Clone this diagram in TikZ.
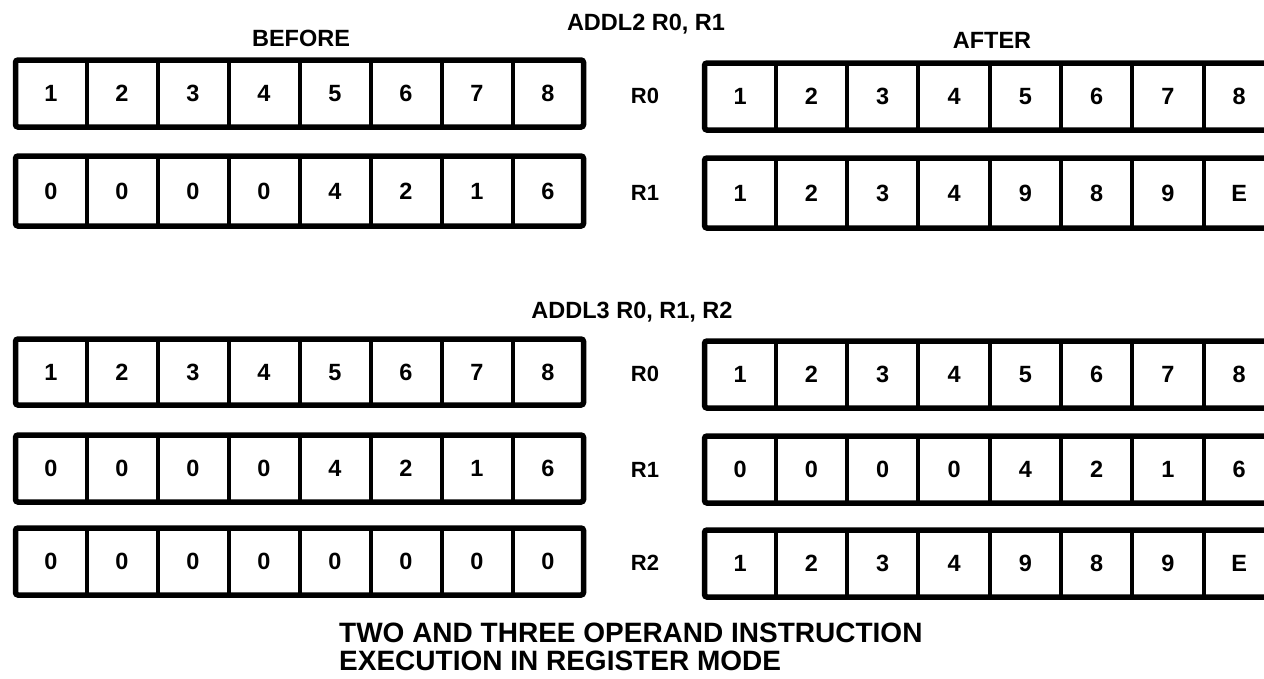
\documentclass[tikz,border=0pt]{standalone}
\usepackage{fontspec}
\setmainfont{Liberation Sans}
\tikzset{
  regbox/.style={line width=5.5pt, rounded corners=2.5pt},
  divline/.style={line width=4pt},
  digit/.style={font=\fontsize{23.5}{24}\selectfont\bfseries, inner sep=0pt, text height=16.8pt, text depth=0pt},
  reglabel/.style={font=\fontsize{22}{22}\selectfont\bfseries, inner sep=0pt, text height=15.8pt, text depth=0pt},
  heading/.style={font=\fontsize{23.5}{24}\selectfont\bfseries, inner sep=0pt, text height=16.8pt, text depth=0pt},
  captext/.style={font=\fontsize{28}{28}\selectfont\bfseries, inner sep=0pt, anchor=west, text height=20pt, text depth=0pt},
}
% name, x left, cell width, y top, y bottom, digits
\newcommand{\drawreg}[6]{%
  \draw[regbox] (#2,#4) rectangle ({#2+8*#3},#5);
  \foreach \k in {1,...,7} \draw[divline] ({#2+\k*#3},#4) -- ({#2+\k*#3},#5);
  \foreach \d [count=\i] in {#6} \node[digit] (#1-\i) at ({#2+(\i-0.5)*#3},{(#4+#5)/2}) {\d};
}
\begin{document}
\begin{tikzpicture}[x=1pt,y=-1pt]
\useasboundingbox[fill=white] (0,0) rectangle (1264,678);

% headings
\node[heading] (addl2) at (646,22) {ADDL2 R0, R1};
\node[heading] (before) at (301,38) {BEFORE};
\node[heading] (after) at (992,40) {AFTER};
\node[heading] (addl3) at (632,310) {ADDL3 R0, R1, R2};

% section 1, before
\drawreg{aL0}{15.5}{71.0}{60}{127}{1,2,3,4,5,6,7,8}
\drawreg{aL1}{15.5}{71.0}{156}{226}{0,0,0,0,4,2,1,6}
% section 1, after
\drawreg{aR0}{704.5}{71.3}{63}{130}{1,2,3,4,5,6,7,8}
\drawreg{aR1}{704.5}{71.3}{158}{228}{1,2,3,4,9,8,9,E}

\node[reglabel] (lab-a0) at (645,96) {R0};
\node[reglabel] (lab-a1) at (645,193) {R1};

% section 2, before
\drawreg{bL0}{15.5}{71.0}{339}{405}{1,2,3,4,5,6,7,8}
\drawreg{bL1}{15.5}{71.0}{435}{502}{0,0,0,0,4,2,1,6}
\drawreg{bL2}{15.5}{71.0}{528}{595}{0,0,0,0,0,0,0,0}
% section 2, after
\drawreg{bR0}{704.5}{71.3}{341}{408}{1,2,3,4,5,6,7,8}
\drawreg{bR1}{704.5}{71.3}{436}{503}{0,0,0,0,4,2,1,6}
\drawreg{bR2}{704.5}{71.3}{530}{597}{1,2,3,4,9,8,9,E}

\node[reglabel] (lab-b0) at (645,374) {R0};
\node[reglabel] (lab-b1) at (645,470) {R1};
\node[reglabel] (lab-b2) at (645,563) {R2};

% caption
\node[captext] (cap1) at (339,632) {TWO AND THREE OPERAND INSTRUCTION};
\node[captext] (cap2) at (339,660) {EXECUTION IN REGISTER MODE};
\end{tikzpicture}
\end{document}
